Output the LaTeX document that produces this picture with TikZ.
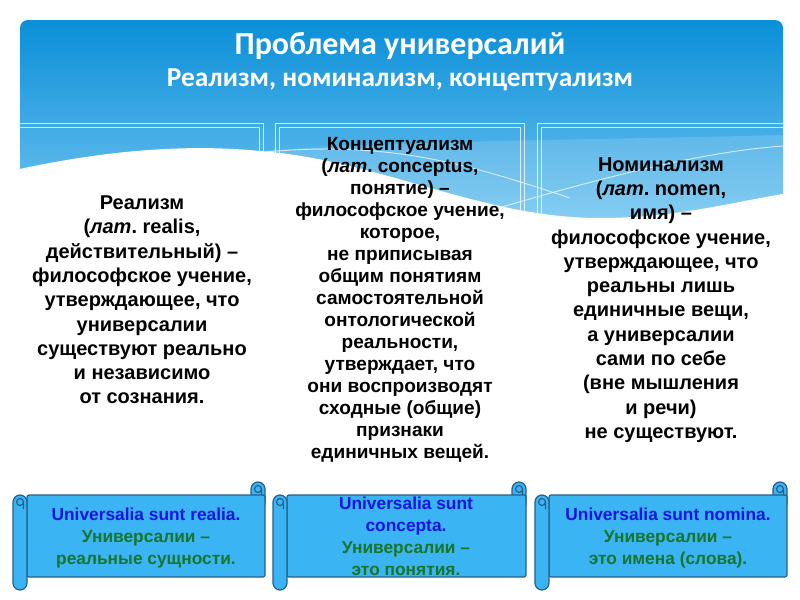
\documentclass[tikz,border=0pt]{standalone}
\usepackage{fontspec}
\setmainfont{Liberation Sans}
\newfontfamily\headfont{Carlito}
\usetikzlibrary{positioning}
\definecolor{hdrtop}{HTML}{0A8FD8}
\definecolor{hdrbot}{HTML}{78C8F2}
\definecolor{scrollfill}{HTML}{3AB4F2}
\definecolor{scrolledge}{HTML}{24618F}
\definecolor{latblue}{HTML}{1515E0}
\definecolor{rusgreen}{HTML}{17752C}
\newcommand{\lat}{\textit{лат}.}
\newcommand{\scrollbanner}[4]{%
  \draw[roll] ({#3-14},#2) rectangle (#3,{#2+28});
  \draw[scrollbody] ({#1+14},{#2+13}) rectangle (#3,{#4-13});
  \draw[roll] (#1,{#2+13}) rectangle ({#1+14},#4);
  \draw[curl] ({#3-7},{#2+7}) circle[radius=2.6pt] ({#3-3.5},{#2+7}) -- ({#3-3.5},{#2+13});
  \draw[curl] ({#1+7},{#2+20}) circle[radius=2.6pt] ({#1+10.5},{#2+20}) -- ({#1+10.5},{#2+27});
}
\tikzset{
    headline/.style={text=white,inner sep=0pt,font=\headfont\bfseries\fontsize{24}{28}\selectfont},
    subline/.style={headline,font=\headfont\bfseries\fontsize{20.5}{24}\selectfont},
    coltext/.style={align=center,inner sep=0pt,font=\bfseries\fontsize{15}{18.2}\selectfont},
    midtext/.style={coltext,font=\bfseries\fontsize{14.3}{16.5}\selectfont},
    scrolltext/.style={align=center,inner sep=0pt,text=rusgreen,font=\bfseries\fontsize{13}{16.5}\selectfont},
    colframe/.style={draw=white,draw opacity=0.75,line width=0.6pt},
    roll/.style={draw=scrolledge,fill=scrollfill,line width=0.9pt,rounded corners=5.25pt},
    scrollbody/.style={draw=scrolledge,fill=scrollfill,line width=0.9pt,rounded corners=1.5pt},
    curl/.style={draw=scrolledge,line width=0.9pt},
}
\begin{document}
\begin{tikzpicture}[x=0.75pt,y=-0.75pt]
    \useasboundingbox (0,0) rectangle (800,600);

    \shade[top color=hdrtop,bottom color=hdrbot,rounded corners=6pt]
        (20,235) -- (20,20) -- (783,20) -- (783,235) -- cycle;
    \begin{scope}
        \clip (20,20) rectangle (783,235);
        \foreach \xa/\xb in {10/263,275/524,537/793}{
            \draw[colframe] (\xa,123) rectangle (\xb,460);
            \draw[colframe] (\xa+4,127) rectangle (\xb-4,460);
        }
    \end{scope}
    \fill[white,opacity=0.15] (230,153) .. controls (400,140) and (600,140) .. (783,135)
        -- (783,194) .. controls (740,200) and (680,218) .. (600,218)
        .. controls (480,218) and (380,160) .. (260,151) -- cycle;
    \fill[white] (15,170) .. controls (120,147) and (200,145) .. (260,151)
        .. controls (380,160) and (480,218) .. (600,218)
        .. controls (680,218) and (740,200) .. (790,193) -- (790,245) -- (15,245) -- cycle;
    \draw[white,opacity=0.7,line width=0.7pt] (232,156) .. controls (380,135) and (470,165) .. (570,198);
    \draw[white,opacity=0.7,line width=0.7pt] (485,212) .. controls (600,178) and (700,152) .. (783,146);

    \node[headline] (title) at (400,46) {Проблема универсалий};
    \node[subline] (subtitle) at (400,80) {Реализм, номинализм, концептуализм};

    \node[coltext] (realism) at (142,300) {Реализм\\(\lat\ realis,\\действительный) –\\философское учение,\\утверждающее, что\\универсалии\\существуют реально\\и независимо\\от сознания.};
    \node[midtext] (concept) at (400,300) {Концептуализм\\(\lat\ conceptus,\\понятие) –\\философское учение,\\которое,\\не приписывая\\общим понятиям\\самостоятельной\\онтологической\\реальности,\\утверждает, что\\они воспроизводят\\сходные (общие)\\признаки\\единичных вещей.};
    \node[coltext] (nominal) at (661,300) {Номинализм\\(\lat\ nomen,\\имя) –\\философское учение,\\утверждающее, что\\реальны лишь\\единичные вещи,\\а универсалии\\сами по себе\\(вне мышления\\и речи)\\не существуют.};

    \scrollbanner{13}{482}{265}{590}
    \scrollbanner{273}{482}{526}{590}
    \scrollbanner{535}{482}{787}{590}

    \node[scrolltext] (realia) at (146,538) {{\color{latblue}Universalia sunt realia.}\\Универсалии –\\реальные сущности.};
    \node[scrolltext] (concepta) at (406,536) {{\color{latblue}Universalia sunt}\\{\color{latblue}concepta.}\\Универсалии –\\это понятия.};
    \node[scrolltext] (nomina) at (668,538) {{\color{latblue}Universalia sunt nomina.}\\Универсалии –\\это имена (слова).};
\end{tikzpicture}
\end{document}
